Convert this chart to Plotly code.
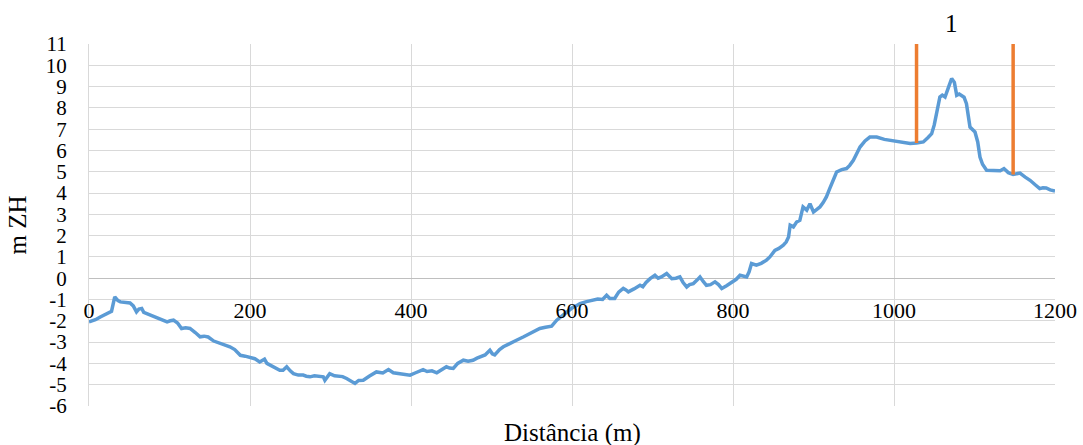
import numpy as np
import plotly.graph_objects as go

distance = [0, 8, 14, 22, 28, 32, 36, 39, 45, 51, 55, 59, 62, 65.5, 68, 72, 78, 85, 92, 97,
            101, 105, 110, 115, 120, 125.5, 132, 138, 143, 148, 155, 163, 169, 175, 181, 188, 194, 200, 206, 212,
            215, 218, 221, 225, 233, 237, 241, 245.6, 250, 254, 260, 266, 270, 274.5, 280, 286, 291, 293, 296, 299,
            305, 310, 315, 320, 326, 330.4, 335, 340.7, 348, 357, 365, 372, 378, 385, 392, 398.8, 405, 410, 415, 420,
            426, 432, 438, 444, 448, 452.5, 458, 465, 471, 477, 482, 485.7, 492, 498, 501, 504, 510, 514.7, 522, 531,
            540, 548, 555, 560, 567, 574.7, 581, 587, 593, 600, 605, 610, 618, 626.5, 632, 638, 643, 647, 653, 658,
            663.7, 667, 670, 677, 684.5, 688, 692, 697, 703, 707, 711, 717.6, 721, 724, 729, 734, 738, 742.5, 746, 750.7,
            755, 759, 763, 767, 772, 777.6, 782, 786, 792, 800, 804, 808.7, 812, 817, 820, 823, 829, 835, 841.6, 845.8,
            852, 857, 862.5, 866, 869, 871, 875, 879, 883, 887, 891.6, 895.6, 900, 904, 908, 912, 916, 920, 924.6, 928.7,
            935, 941, 945, 949.5, 957.8, 964, 970, 978.5, 988, 999, 1010, 1020, 1028, 1036.4, 1042, 1046.8, 1050, 1053, 1057, 1060,
            1063.4, 1068, 1071.6, 1075, 1077.9, 1081, 1084, 1087, 1090, 1094.4, 1100.6, 1104, 1106.8, 1110, 1115, 1121, 1127.6, 1132, 1136.6, 1142,
            1148, 1152, 1156.5, 1163, 1169, 1175, 1181, 1185, 1189, 1194, 1200]

elevation = [-2.05, -1.95, -1.82, -1.66, -1.55, -0.88, -1.05, -1.11, -1.12, -1.16, -1.3, -1.58, -1.45, -1.42, -1.6, -1.66, -1.74, -1.85, -1.98, -2.05,
             -2.0, -1.97, -2.1, -2.36, -2.33, -2.36, -2.55, -2.75, -2.72, -2.76, -2.95, -3.07, -3.12, -3.22, -3.35, -3.62, -3.66, -3.73, -3.78, -3.93,
             -3.85, -3.8, -4.0, -4.08, -4.2, -4.32, -4.32, -4.16, -4.35, -4.48, -4.55, -4.55, -4.6, -4.63, -4.58, -4.62, -4.63, -4.79, -4.6, -4.48,
             -4.58, -4.6, -4.62, -4.71, -4.82, -4.94, -4.8, -4.79, -4.6, -4.4, -4.45, -4.29, -4.44, -4.48, -4.52, -4.55, -4.45, -4.35, -4.29, -4.38,
             -4.35, -4.44, -4.3, -4.16, -4.22, -4.24, -4.0, -3.85, -3.9, -3.85, -3.75, -3.69, -3.6, -3.38, -3.55, -3.6, -3.35, -3.22, -3.1, -2.91,
             -2.75, -2.6, -2.45, -2.36, -2.3, -2.25, -1.97, -1.8, -1.58, -1.4, -1.3, -1.19, -1.1, -1.03, -0.98, -1.0, -0.8, -0.95, -0.95, -0.65,
             -0.48, -0.55, -0.64, -0.5, -0.33, -0.4, -0.2, -0.02, 0.14, 0.0, 0.06, 0.22, 0.1, -0.02, 0.0, 0.06, -0.2, -0.41, -0.3, -0.25,
             -0.1, 0.06, -0.15, -0.33, -0.3, -0.17, -0.3, -0.48, -0.35, -0.17, -0.05, 0.14, 0.1, 0.06, 0.3, 0.69, 0.61, 0.7, 0.85, 1.0,
             1.31, 1.4, 1.55, 1.7, 1.94, 2.49, 2.41, 2.64, 2.72, 3.35, 3.2, 3.5, 3.11, 3.25, 3.35, 3.55, 3.82, 4.2, 4.6, 4.99,
             5.1, 5.15, 5.3, 5.54, 6.16, 6.45, 6.63, 6.63, 6.52, 6.45, 6.38, 6.33, 6.35, 6.4, 6.6, 6.79, 7.2, 7.73, 8.51, 8.6,
             8.51, 9.0, 9.38, 9.2, 8.59, 8.65, 8.59, 8.5, 8.2, 7.1, 6.87, 6.4, 5.69, 5.35, 5.07, 5.05, 5.04, 5.05, 5.15, 4.96,
             4.87, 4.92, 4.94, 4.75, 4.6, 4.4, 4.21, 4.25, 4.24, 4.15, 4.1]

marker_x = [1028, 1148]
marker_top = 11
zone_label = "1"
zone_label_x = 1072

x_ticks = [0, 200, 400, 600, 800, 1000, 1200]
y_ticks = list(range(-6, 12))

FONT = "Liberation Serif"
BLUE = "#5B9BD5"
ORANGE = "#ED7D31"
GRID = "#D9D9D9"

fig = go.Figure()
fig.add_trace(go.Scatter(x=distance, y=elevation, mode="lines",
                         line=dict(color=BLUE, width=3.5), showlegend=False, hoverinfo="skip"))

for mx in marker_x:
    base = float(np.interp(mx, distance, elevation))
    fig.add_trace(go.Scatter(x=[mx, mx], y=[base, marker_top], mode="lines",
                             line=dict(color=ORANGE, width=3.5), showlegend=False, hoverinfo="skip"))

fig.add_annotation(x=zone_label_x, y=1.0, xref="x", yref="paper", text=zone_label,
                   showarrow=False, yanchor="bottom", yshift=5,
                   font=dict(family=FONT, size=25, color="#000000"))

fig.add_annotation(x=0.5, y=0, xref="paper", yref="paper", text="Distância (m)",
                   showarrow=False, yanchor="top", yshift=-11,
                   font=dict(family=FONT, size=25, color="#000000"))

fig.update_layout(
    width=1083, height=445,
    margin=dict(l=89, r=28, t=44, b=39, autoexpand=False),
    paper_bgcolor="white", plot_bgcolor="white",
    font=dict(family=FONT, size=22, color="#000000"),
    xaxis=dict(range=[0, 1200], tickvals=x_ticks, ticktext=[str(v) for v in x_ticks],
               showgrid=True, gridcolor=GRID, gridwidth=1, zeroline=False,
               showline=False, anchor="free", position=6 / 17, automargin=False,
               ticks="outside", ticklen=12, tickcolor="rgba(0,0,0,0)",
               tickfont=dict(family=FONT, size=22, color="#000000")),
    yaxis=dict(range=[-6, 11], tickvals=y_ticks, ticktext=[str(v) for v in y_ticks],
               showgrid=True, gridcolor=GRID, gridwidth=1, automargin=False,
               zeroline=True, zerolinecolor="#BFBFBF", zerolinewidth=1,
               showline=True, linecolor=GRID, linewidth=1,
               ticks="outside", ticklen=17, tickcolor="rgba(0,0,0,0)",
               tickfont=dict(family=FONT, size=21, color="#000000")),
)
fig.update_yaxes(title=dict(text="m ZH", font=dict(family=FONT, size=25, color="#000000"), standoff=12))

fig.write_html("out.html", config={"displayModeBar": False},
               post_script="document.body.style.margin='0';")
